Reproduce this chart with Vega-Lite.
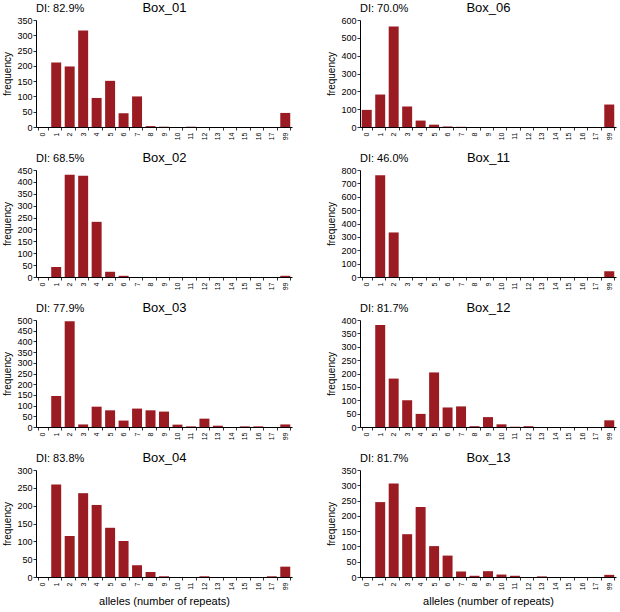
{
  "$schema": "https://vega.github.io/schema/vega-lite/v6.json",
  "padding": {"left": 2, "top": 1, "right": 2, "bottom": 2},
  "columns": 2,
  "spacing": {"row": 11, "column": 34},
  "datasets": {
    "Box_01": [{"allele":"0","freq":0},{"allele":"1","freq":211},{"allele":"2","freq":198},{"allele":"3","freq":316},{"allele":"4","freq":95},{"allele":"5","freq":151},{"allele":"6","freq":45},{"allele":"7","freq":100},{"allele":"8","freq":3},{"allele":"9","freq":1},{"allele":"10","freq":0},{"allele":"11","freq":1},{"allele":"12","freq":0},{"allele":"13","freq":0},{"allele":"14","freq":0},{"allele":"15","freq":0},{"allele":"16","freq":0},{"allele":"17","freq":0},{"allele":"99","freq":46}],
    "Box_06": [{"allele":"0","freq":96},{"allele":"1","freq":182},{"allele":"2","freq":564},{"allele":"3","freq":115},{"allele":"4","freq":36},{"allele":"5","freq":13},{"allele":"6","freq":3},{"allele":"7","freq":1},{"allele":"8","freq":0},{"allele":"9","freq":0},{"allele":"10","freq":0},{"allele":"11","freq":0},{"allele":"12","freq":0},{"allele":"13","freq":0},{"allele":"14","freq":0},{"allele":"15","freq":0},{"allele":"16","freq":0},{"allele":"17","freq":0},{"allele":"99","freq":126}],
    "Box_02": [{"allele":"0","freq":0},{"allele":"1","freq":42},{"allele":"2","freq":430},{"allele":"3","freq":426},{"allele":"4","freq":232},{"allele":"5","freq":22},{"allele":"6","freq":5},{"allele":"7","freq":0},{"allele":"8","freq":0},{"allele":"9","freq":0},{"allele":"10","freq":0},{"allele":"11","freq":0},{"allele":"12","freq":0},{"allele":"13","freq":0},{"allele":"14","freq":0},{"allele":"15","freq":0},{"allele":"16","freq":0},{"allele":"17","freq":0},{"allele":"99","freq":5}],
    "Box_11": [{"allele":"0","freq":0},{"allele":"1","freq":760},{"allele":"2","freq":333},{"allele":"3","freq":0},{"allele":"4","freq":0},{"allele":"5","freq":0},{"allele":"6","freq":0},{"allele":"7","freq":0},{"allele":"8","freq":0},{"allele":"9","freq":0},{"allele":"10","freq":0},{"allele":"11","freq":0},{"allele":"12","freq":0},{"allele":"13","freq":0},{"allele":"14","freq":0},{"allele":"15","freq":0},{"allele":"16","freq":0},{"allele":"17","freq":0},{"allele":"99","freq":43}],
    "Box_03": [{"allele":"0","freq":0},{"allele":"1","freq":145},{"allele":"2","freq":494},{"allele":"3","freq":12},{"allele":"4","freq":95},{"allele":"5","freq":78},{"allele":"6","freq":30},{"allele":"7","freq":86},{"allele":"8","freq":78},{"allele":"9","freq":72},{"allele":"10","freq":11},{"allele":"11","freq":3},{"allele":"12","freq":39},{"allele":"13","freq":6},{"allele":"14","freq":0},{"allele":"15","freq":3},{"allele":"16","freq":3},{"allele":"17","freq":0},{"allele":"99","freq":12}],
    "Box_12": [{"allele":"0","freq":0},{"allele":"1","freq":381},{"allele":"2","freq":181},{"allele":"3","freq":100},{"allele":"4","freq":49},{"allele":"5","freq":204},{"allele":"6","freq":73},{"allele":"7","freq":77},{"allele":"8","freq":3},{"allele":"9","freq":37},{"allele":"10","freq":10},{"allele":"11","freq":1},{"allele":"12","freq":3},{"allele":"13","freq":0},{"allele":"14","freq":0},{"allele":"15","freq":0},{"allele":"16","freq":0},{"allele":"17","freq":0},{"allele":"99","freq":25}],
    "Box_04": [{"allele":"0","freq":0},{"allele":"1","freq":259},{"allele":"2","freq":115},{"allele":"3","freq":235},{"allele":"4","freq":202},{"allele":"5","freq":138},{"allele":"6","freq":101},{"allele":"7","freq":33},{"allele":"8","freq":14},{"allele":"9","freq":2},{"allele":"10","freq":0},{"allele":"11","freq":0},{"allele":"12","freq":2},{"allele":"13","freq":0},{"allele":"14","freq":0},{"allele":"15","freq":0},{"allele":"16","freq":0},{"allele":"17","freq":2},{"allele":"99","freq":29}],
    "Box_13": [{"allele":"0","freq":0},{"allele":"1","freq":245},{"allele":"2","freq":306},{"allele":"3","freq":140},{"allele":"4","freq":229},{"allele":"5","freq":101},{"allele":"6","freq":70},{"allele":"7","freq":18},{"allele":"8","freq":4},{"allele":"9","freq":19},{"allele":"10","freq":8},{"allele":"11","freq":4},{"allele":"12","freq":0},{"allele":"13","freq":2},{"allele":"14","freq":0},{"allele":"15","freq":0},{"allele":"16","freq":0},{"allele":"17","freq":0},{"allele":"99","freq":7}]
  },
  "concat": [
    {"width": 256, "height": 107, "data": {"name": "Box_01"}, "title": {"text": "DI: 82.9%"},
     "layer": [
      {"mark": {"type": "bar", "fill": "#9b1b22"},
       "encoding": {"x": {"field": "allele", "type": "ordinal", "sort": null, "scale": {"domain": ["0","1","2","3","4","5","6","7","8","9","10","11","12","13","14","15","16","17","99"], "paddingInner": 0.26, "paddingOuter": 0.13}, "axis": {"title": null}},
                    "y": {"field": "freq", "type": "quantitative", "scale": {"domain": [0, 350]}, "axis": {"title": "frequency", "tickCount": 7}}}},
      {"mark": {"type": "bar", "opacity": 0},
       "encoding": {"x": {"field": "allele", "type": "ordinal", "sort": null, "scale": {"domain": ["0","1","2","3","4","5","6","7","8","9","10","11","12","13","14","15","16","17","99"], "paddingInner": 0.26, "paddingOuter": 0.13}, "axis": {"orient": "top", "title": "Box_01", "labels": false, "ticks": false, "domain": false, "minExtent": 0, "titleFontSize": 13, "titlePadding": 6, "titleAnchor": "middle"}},
                    "y": {"field": "freq", "type": "quantitative", "scale": {"domain": [0, 350]}}}}
     ], "resolve": {"axis": {"x": "independent"}}},
    {"width": 256, "height": 107, "data": {"name": "Box_06"}, "title": {"text": "DI: 70.0%"},
     "layer": [
      {"mark": {"type": "bar", "fill": "#9b1b22"},
       "encoding": {"x": {"field": "allele", "type": "ordinal", "sort": null, "scale": {"domain": ["0","1","2","3","4","5","6","7","8","9","10","11","12","13","14","15","16","17","99"], "paddingInner": 0.26, "paddingOuter": 0.13}, "axis": {"title": null}},
                    "y": {"field": "freq", "type": "quantitative", "scale": {"domain": [0, 600]}, "axis": {"title": "frequency", "tickCount": 6}}}},
      {"mark": {"type": "bar", "opacity": 0},
       "encoding": {"x": {"field": "allele", "type": "ordinal", "sort": null, "scale": {"domain": ["0","1","2","3","4","5","6","7","8","9","10","11","12","13","14","15","16","17","99"], "paddingInner": 0.26, "paddingOuter": 0.13}, "axis": {"orient": "top", "title": "Box_06", "labels": false, "ticks": false, "domain": false, "minExtent": 0, "titleFontSize": 13, "titlePadding": 6, "titleAnchor": "middle"}},
                    "y": {"field": "freq", "type": "quantitative", "scale": {"domain": [0, 600]}}}}
     ], "resolve": {"axis": {"x": "independent"}}},
    {"width": 256, "height": 107, "data": {"name": "Box_02"}, "title": {"text": "DI: 68.5%"},
     "layer": [
      {"mark": {"type": "bar", "fill": "#9b1b22"},
       "encoding": {"x": {"field": "allele", "type": "ordinal", "sort": null, "scale": {"domain": ["0","1","2","3","4","5","6","7","8","9","10","11","12","13","14","15","16","17","99"], "paddingInner": 0.26, "paddingOuter": 0.13}, "axis": {"title": null}},
                    "y": {"field": "freq", "type": "quantitative", "scale": {"domain": [0, 450]}, "axis": {"title": "frequency", "tickCount": 9}}}},
      {"mark": {"type": "bar", "opacity": 0},
       "encoding": {"x": {"field": "allele", "type": "ordinal", "sort": null, "scale": {"domain": ["0","1","2","3","4","5","6","7","8","9","10","11","12","13","14","15","16","17","99"], "paddingInner": 0.26, "paddingOuter": 0.13}, "axis": {"orient": "top", "title": "Box_02", "labels": false, "ticks": false, "domain": false, "minExtent": 0, "titleFontSize": 13, "titlePadding": 6, "titleAnchor": "middle"}},
                    "y": {"field": "freq", "type": "quantitative", "scale": {"domain": [0, 450]}}}}
     ], "resolve": {"axis": {"x": "independent"}}},
    {"width": 256, "height": 107, "data": {"name": "Box_11"}, "title": {"text": "DI: 46.0%"},
     "layer": [
      {"mark": {"type": "bar", "fill": "#9b1b22"},
       "encoding": {"x": {"field": "allele", "type": "ordinal", "sort": null, "scale": {"domain": ["0","1","2","3","4","5","6","7","8","9","10","11","12","13","14","15","16","17","99"], "paddingInner": 0.26, "paddingOuter": 0.13}, "axis": {"title": null}},
                    "y": {"field": "freq", "type": "quantitative", "scale": {"domain": [0, 800]}, "axis": {"title": "frequency", "tickCount": 8}}}},
      {"mark": {"type": "bar", "opacity": 0},
       "encoding": {"x": {"field": "allele", "type": "ordinal", "sort": null, "scale": {"domain": ["0","1","2","3","4","5","6","7","8","9","10","11","12","13","14","15","16","17","99"], "paddingInner": 0.26, "paddingOuter": 0.13}, "axis": {"orient": "top", "title": "Box_11", "labels": false, "ticks": false, "domain": false, "minExtent": 0, "titleFontSize": 13, "titlePadding": 6, "titleAnchor": "middle"}},
                    "y": {"field": "freq", "type": "quantitative", "scale": {"domain": [0, 800]}}}}
     ], "resolve": {"axis": {"x": "independent"}}},
    {"width": 256, "height": 107, "data": {"name": "Box_03"}, "title": {"text": "DI: 77.9%"},
     "layer": [
      {"mark": {"type": "bar", "fill": "#9b1b22"},
       "encoding": {"x": {"field": "allele", "type": "ordinal", "sort": null, "scale": {"domain": ["0","1","2","3","4","5","6","7","8","9","10","11","12","13","14","15","16","17","99"], "paddingInner": 0.26, "paddingOuter": 0.13}, "axis": {"title": null}},
                    "y": {"field": "freq", "type": "quantitative", "scale": {"domain": [0, 500]}, "axis": {"title": "frequency", "tickCount": 10}}}},
      {"mark": {"type": "bar", "opacity": 0},
       "encoding": {"x": {"field": "allele", "type": "ordinal", "sort": null, "scale": {"domain": ["0","1","2","3","4","5","6","7","8","9","10","11","12","13","14","15","16","17","99"], "paddingInner": 0.26, "paddingOuter": 0.13}, "axis": {"orient": "top", "title": "Box_03", "labels": false, "ticks": false, "domain": false, "minExtent": 0, "titleFontSize": 13, "titlePadding": 6, "titleAnchor": "middle"}},
                    "y": {"field": "freq", "type": "quantitative", "scale": {"domain": [0, 500]}}}}
     ], "resolve": {"axis": {"x": "independent"}}},
    {"width": 256, "height": 107, "data": {"name": "Box_12"}, "title": {"text": "DI: 81.7%"},
     "layer": [
      {"mark": {"type": "bar", "fill": "#9b1b22"},
       "encoding": {"x": {"field": "allele", "type": "ordinal", "sort": null, "scale": {"domain": ["0","1","2","3","4","5","6","7","8","9","10","11","12","13","14","15","16","17","99"], "paddingInner": 0.26, "paddingOuter": 0.13}, "axis": {"title": null}},
                    "y": {"field": "freq", "type": "quantitative", "scale": {"domain": [0, 400]}, "axis": {"title": "frequency", "tickCount": 8}}}},
      {"mark": {"type": "bar", "opacity": 0},
       "encoding": {"x": {"field": "allele", "type": "ordinal", "sort": null, "scale": {"domain": ["0","1","2","3","4","5","6","7","8","9","10","11","12","13","14","15","16","17","99"], "paddingInner": 0.26, "paddingOuter": 0.13}, "axis": {"orient": "top", "title": "Box_12", "labels": false, "ticks": false, "domain": false, "minExtent": 0, "titleFontSize": 13, "titlePadding": 6, "titleAnchor": "middle"}},
                    "y": {"field": "freq", "type": "quantitative", "scale": {"domain": [0, 400]}}}}
     ], "resolve": {"axis": {"x": "independent"}}},
    {"width": 256, "height": 107, "data": {"name": "Box_04"}, "title": {"text": "DI: 83.8%"},
     "layer": [
      {"mark": {"type": "bar", "fill": "#9b1b22"},
       "encoding": {"x": {"field": "allele", "type": "ordinal", "sort": null, "scale": {"domain": ["0","1","2","3","4","5","6","7","8","9","10","11","12","13","14","15","16","17","99"], "paddingInner": 0.26, "paddingOuter": 0.13}, "axis": {"title": "alleles (number of repeats)"}},
                    "y": {"field": "freq", "type": "quantitative", "scale": {"domain": [0, 300]}, "axis": {"title": "frequency", "tickCount": 6}}}},
      {"mark": {"type": "bar", "opacity": 0},
       "encoding": {"x": {"field": "allele", "type": "ordinal", "sort": null, "scale": {"domain": ["0","1","2","3","4","5","6","7","8","9","10","11","12","13","14","15","16","17","99"], "paddingInner": 0.26, "paddingOuter": 0.13}, "axis": {"orient": "top", "title": "Box_04", "labels": false, "ticks": false, "domain": false, "minExtent": 0, "titleFontSize": 13, "titlePadding": 6, "titleAnchor": "middle"}},
                    "y": {"field": "freq", "type": "quantitative", "scale": {"domain": [0, 300]}}}}
     ], "resolve": {"axis": {"x": "independent"}}},
    {"width": 256, "height": 107, "data": {"name": "Box_13"}, "title": {"text": "DI: 81.7%"},
     "layer": [
      {"mark": {"type": "bar", "fill": "#9b1b22"},
       "encoding": {"x": {"field": "allele", "type": "ordinal", "sort": null, "scale": {"domain": ["0","1","2","3","4","5","6","7","8","9","10","11","12","13","14","15","16","17","99"], "paddingInner": 0.26, "paddingOuter": 0.13}, "axis": {"title": "alleles (number of repeats)"}},
                    "y": {"field": "freq", "type": "quantitative", "scale": {"domain": [0, 350]}, "axis": {"title": "frequency", "tickCount": 7}}}},
      {"mark": {"type": "bar", "opacity": 0},
       "encoding": {"x": {"field": "allele", "type": "ordinal", "sort": null, "scale": {"domain": ["0","1","2","3","4","5","6","7","8","9","10","11","12","13","14","15","16","17","99"], "paddingInner": 0.26, "paddingOuter": 0.13}, "axis": {"orient": "top", "title": "Box_13", "labels": false, "ticks": false, "domain": false, "minExtent": 0, "titleFontSize": 13, "titlePadding": 6, "titleAnchor": "middle"}},
                    "y": {"field": "freq", "type": "quantitative", "scale": {"domain": [0, 350]}}}}
     ], "resolve": {"axis": {"x": "independent"}}}
  ],
  "config": {
    "font": "Liberation Sans",
    "view": {"stroke": null},
    "title": {"fontSize": 11, "fontWeight": "normal", "anchor": "start", "frame": "group", "baseline": "bottom", "offset": -13, "color": "#000"},
    "axis": {"grid": false, "domainColor": "#000", "tickColor": "#000", "labelColor": "#000", "titleColor": "#000", "titleFontWeight": "normal", "domainWidth": 1, "tickWidth": 0.8},
    "axisX": {"labelAngle": -90, "labelFontSize": 7, "tickBand": "extent", "tickSize": 3, "labelPadding": 2, "titleFontSize": 11, "titlePadding": 6, "labelAlign": "right", "labelBaseline": "middle"},
    "axisY": {"labelFontSize": 9, "tickSize": 3, "labelPadding": 1, "titleFontSize": 10, "titlePadding": 4}
  }
}
